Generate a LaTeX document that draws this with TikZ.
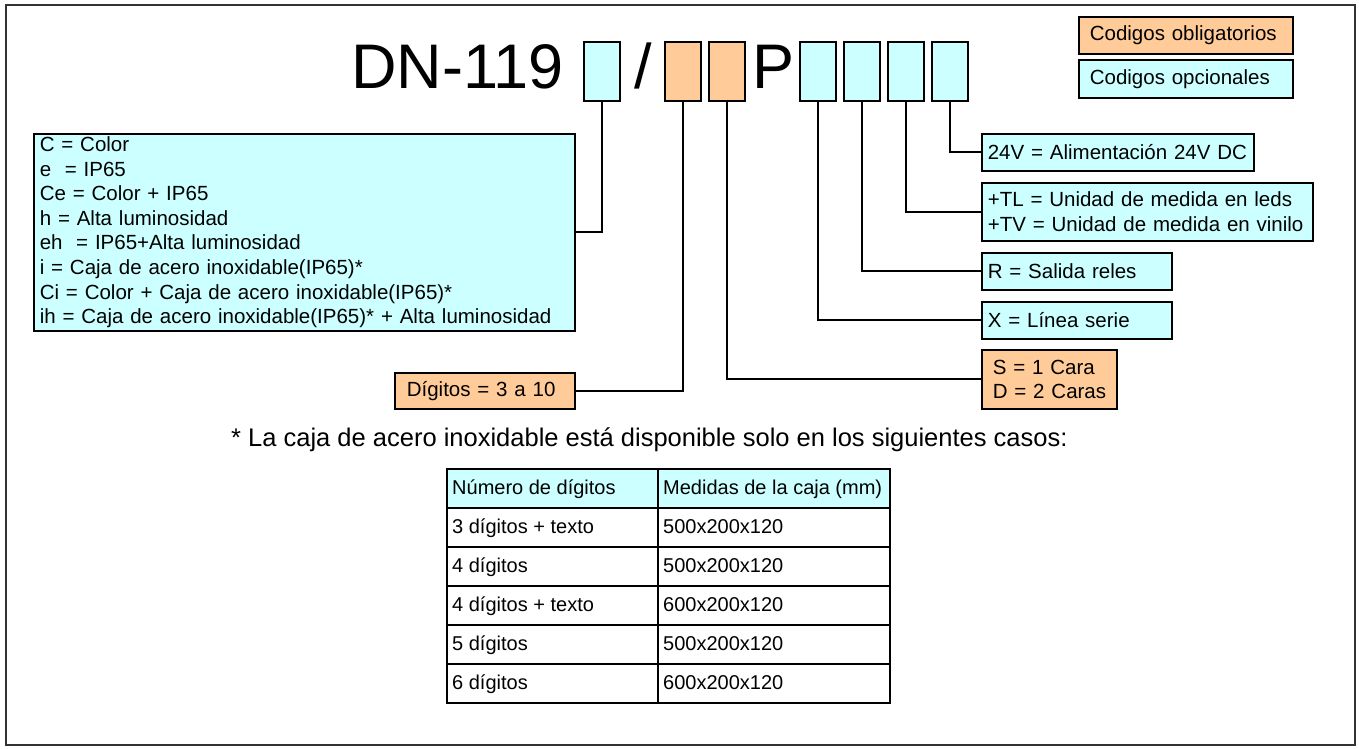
\documentclass[tikz,border=0pt]{standalone}
\usepackage{fontspec}
\setmainfont{Liberation Sans}
\usetikzlibrary{shadows}
\definecolor{optc}{HTML}{CCFFFF}
\definecolor{oblc}{HTML}{FFCC99}
\begin{document}
\begin{tikzpicture}[x=1pt,y=-1pt,
  shad/.style={drop shadow={shadow xshift=1.2pt, shadow yshift=-1.2pt, fill=black!45, opacity=1}},
  codebox/.style={draw, line width=1.6pt, minimum width=36pt, minimum height=59pt, inner sep=0pt, anchor=north west, shad},
  opt/.style={fill=optc},
  obl/.style={fill=oblc},
  lbox/.style={draw, line width=1.6pt, anchor=north west, inner ysep=0pt, align=left, shad, font=\fontsize{20.5}{24.6}\selectfont},
  big/.style={anchor=base west, inner sep=0pt, font=\fontsize{63}{63}\selectfont},
  conn/.style={line width=2pt},
  cell/.style={anchor=west, inner sep=0pt, text height=15pt, text depth=4pt, font=\fontsize{20}{24}\selectfont},
  tline/.style={line width=2.5pt}]
\useasboundingbox (0,0) rectangle (1359,749);
\draw[line width=1.5pt, black!80] (6,5) rectangle (1355,745);

% code line
\node[big] (title) at (351,89) {DN-119};
\node[codebox,opt] (c1) at (583,41) {};
\node[big, anchor=base] (slash) at (643,89) {/};
\node[codebox,obl] (o1) at (664,41) {};
\node[codebox,obl] (o2) at (708,41) {};
\node[big] (p) at (752,89) {P};
\node[codebox,opt] (c2) at (799,41) {};
\node[codebox,opt] (c3) at (843,41) {};
\node[codebox,opt] (c4) at (887,41) {};
\node[codebox,opt] (c5) at (931,41) {};

% legend
\node[lbox,obl, minimum height=37pt, inner xsep=11pt, text width=192pt] (leg1) at (1078,16) {Codigos obligatorios};
\node[lbox,opt, minimum height=38pt, inner xsep=11pt, text width=192pt] (leg2) at (1078,59) {Codigos opcionales};

% left box
\node[lbox,opt, minimum height=197pt, inner xsep=6pt, text width=529pt] (left) at (33,133) {C = Color\\
e\ \ = IP65\\
Ce = Color + IP65\\
h = Alta luminosidad\\
eh\ \ = IP65+Alta luminosidad\\
i = Caja de acero inoxidable(IP65)*\\
Ci = Color + Caja de acero inoxidable(IP65)*\\
ih = Caja de acero inoxidable(IP65)* + Alta luminosidad};

\node[lbox,obl, minimum height=36pt, inner xsep=12pt, text width=156pt] (dig) at (394,372) {Dígitos = 3 a 10};

% right boxes
\node[lbox,opt, minimum height=37pt, inner xsep=6pt, text width=260pt] (v24) at (981,133) {24V = Alimentación 24V DC};
\node[lbox,opt, minimum height=58pt, inner xsep=6pt, text width=319pt] (tl) at (981,182) {\mbox{+TL = Unidad de medida en leds}\\\mbox{+TV = Unidad de medida en vinilo}};
\node[lbox,opt, minimum height=37pt, inner xsep=6pt, text width=178pt] (r) at (981,252) {R = Salida reles};
\node[lbox,opt, minimum height=37pt, inner xsep=6pt, text width=178pt] (x) at (981,301) {X = Línea serie};
\node[lbox,obl, minimum height=59pt, inner xsep=11pt, text width=113pt] (sd) at (981,349) {\mbox{S = 1 Cara}\\\mbox{D = 2 Caras}};

% connectors
\draw[conn] (left.east) -| (c1.south);
\draw[conn] (dig.east) -| (o1.south);
\draw[conn] (sd.west) -| (o2.south);
\draw[conn] (x.west) -| (c2.south);
\draw[conn] (r.west) -| (c3.south);
\draw[conn] (tl.west) -| (c4.south);
\draw[conn] (v24.west) -| (c5.south);

% footnote
\node[anchor=base west, inner sep=0pt, font=\fontsize{25.5}{30}\selectfont] (note) at (231,446) {* La caja de acero inoxidable está disponible solo en los siguientes casos:};

% table
\fill[optc] (447,469) rectangle (890,508);
\foreach \yy in {508,547,586,625,664} \draw[tline] (447,\yy) -- (890,\yy);
\draw[tline] (658,469) -- (658,703);
\draw[tline] (447,469) rectangle (890,703);
\node[cell] (h1) at (452,488.5) {Número de dígitos};
\node[cell] (h2) at (663,488.5) {Medidas de la caja (mm)};
\node[cell] (a1) at (452,527.5) {3 dígitos + texto};
\node[cell] (b1) at (663,527.5) {500x200x120};
\node[cell] (a2) at (452,566.5) {4 dígitos};
\node[cell] (b2) at (663,566.5) {500x200x120};
\node[cell] (a3) at (452,605.5) {4 dígitos + texto};
\node[cell] (b3) at (663,605.5) {600x200x120};
\node[cell] (a4) at (452,644.5) {5 dígitos};
\node[cell] (b4) at (663,644.5) {500x200x120};
\node[cell] (a5) at (452,683.5) {6 dígitos};
\node[cell] (b5) at (663,683.5) {600x200x120};
\end{tikzpicture}
\end{document}
